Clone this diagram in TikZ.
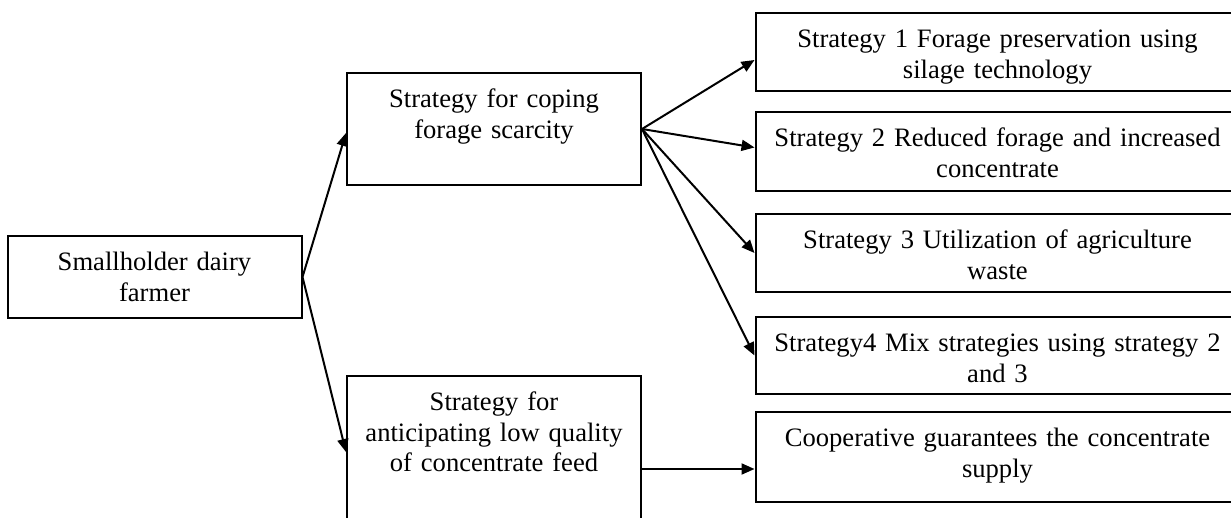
\documentclass[tikz,border=0pt]{standalone}
\usepackage{fontspec}
\setmainfont{Liberation Serif}
\usetikzlibrary{arrows.meta}
\tikzset{
  % box with its text set from the top
  box/.style={draw=black, line width=1pt, align=center, inner xsep=2pt,
    inner ysep=0pt, text height=17.3pt, fill=white,
    font=\fontsize{13.3pt}{15.3pt}\selectfont},
  midbox/.style={box, text width=143pt},
  widebox/.style={box, text width=238pt},
  % arrow between boxes
  link/.style={-{Triangle[length=6.5pt, width=5.5pt]}, line width=1pt},
}

\begin{document}
\begin{tikzpicture}[x=0.5pt, y=-0.5pt]
  \clip (0,0) rectangle (1231,518);
  \node[midbox, text depth=23.7pt] (farmer) at (154.5,277) {Smallholder dairy\\farmer};
  \node[midbox, text depth=38.7pt] (coping) at (494,129) {Strategy for coping\\forage scarcity};
  \node[midbox, text depth=58.7pt] (anticip) at (494,452) {Strategy for\\anticipating low quality\\of concentrate feed};
  \node[widebox, text depth=21.7pt] (silage) at (997.5,52) {Strategy 1 Forage preservation using\\silage technology};
  \node[widebox, text depth=22.2pt] (reduced) at (997.5,151.5) {Strategy 2 Reduced forage and increased\\concentrate};
  \node[widebox, text depth=21.7pt] (waste) at (997.5,253) {Strategy 3 Utilization of agriculture\\waste};
  \node[widebox, text depth=21.2pt] (mix) at (997.5,355.5) {Strategy4 Mix strategies using strategy 2\\and 3};
  \node[widebox, text depth=27.7pt] (coop) at (997.5,457) {Cooperative guarantees the concentrate\\supply};
  \draw[link] (farmer.east) -- ([yshift=-2pt]coping.west);
  \draw[link] (farmer.east) -- (anticip.west);
  \draw[link] (coping.east) -- ([yshift=-4pt]silage.west);
  \draw[link] (coping.east) -- ([yshift=2pt]reduced.west);
  \draw[link] (coping.east) -- (waste.west);
  \draw[link] (coping.east) -- (mix.west);
  \coordinate (feed) at ([yshift=-8.5pt]anticip.east);
  \draw[link] (feed) -- (feed -| coop.west);
\end{tikzpicture}
\end{document}
